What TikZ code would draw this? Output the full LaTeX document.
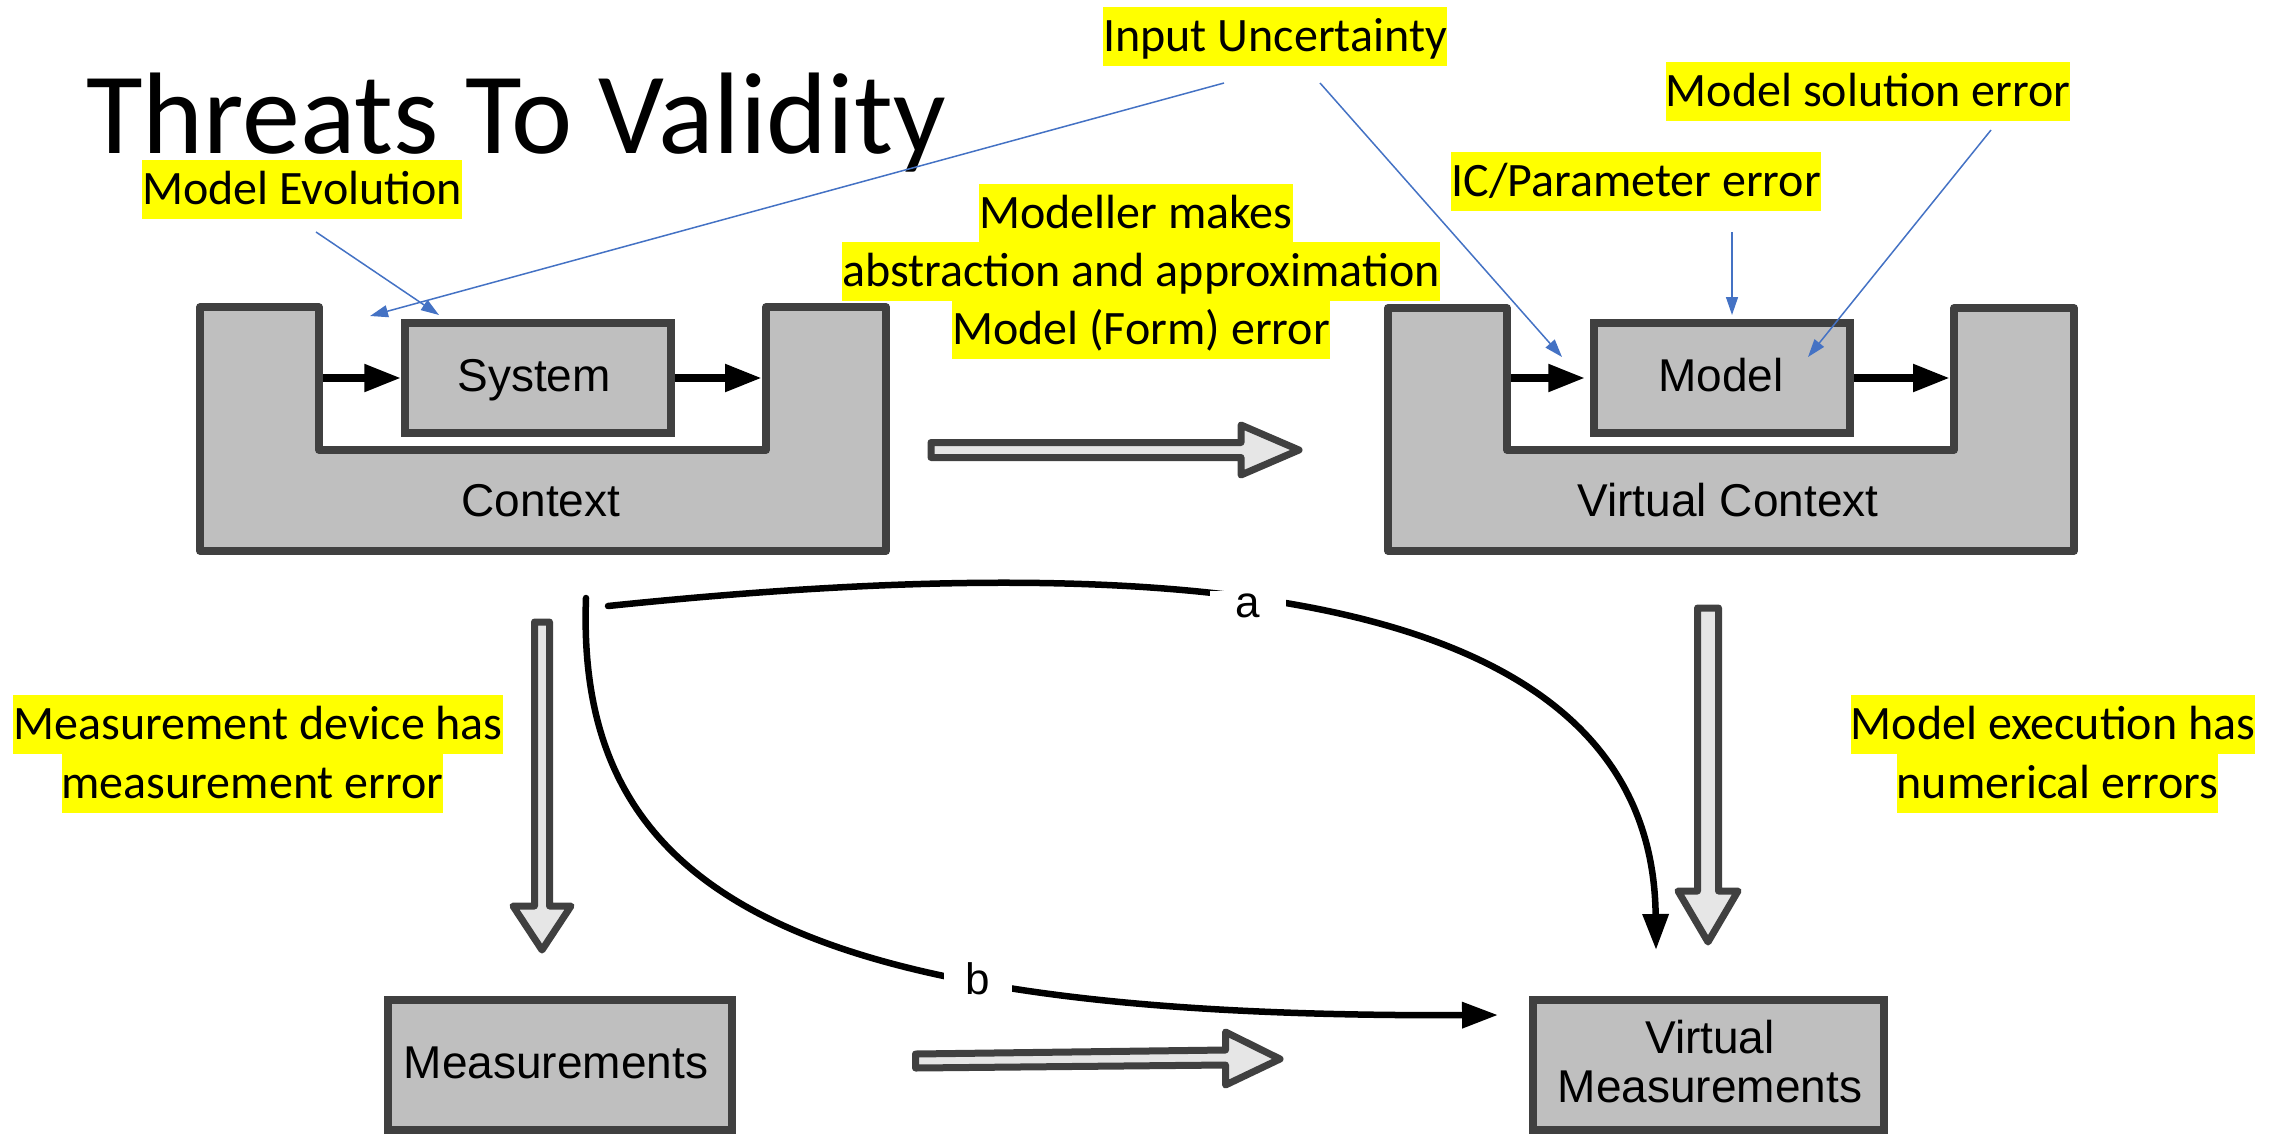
\documentclass[tikz,border=0pt]{standalone}
\usepackage{fontspec}
\setmainfont{Liberation Sans}
\newfontfamily\calib{Carlito}
\usetikzlibrary{arrows.meta}
\definecolor{boxfill}{HTML}{BFBFBF}
\definecolor{boxline}{HTML}{404040}
\definecolor{arrfill}{HTML}{E6E6E6}
\definecolor{bluel}{HTML}{4472C4}
\definecolor{hl}{HTML}{FFFF00}
\begin{document}
\begin{tikzpicture}[x=1pt,y=-1pt,
  ushape/.style={draw=boxline, fill=boxfill, line width=7.5pt, line join=round},
  boxnode/.style={draw=boxline, fill=boxfill, line width=7.5pt, rectangle, inner sep=0pt},
  hollow/.style={draw=boxline, fill=arrfill, line width=7pt, line join=round},
  boxtext/.style={font=\fontsize{46}{49}\selectfont, inner sep=0pt, anchor=base, align=center},
  hlabel/.style={fill=hl, font=\calib\fontsize{48}{58}\selectfont, inner xsep=0pt, inner ysep=0pt, text height=44.4pt, text depth=14.2pt, anchor=north},
  flow/.style={line width=8pt, -{Triangle[length=37pt,width=26pt]}},
  curvearr/.style={line width=6.5pt, line cap=round, -{Triangle[length=36pt,width=25pt]}},
  blueptr/.style={draw=bluel, line width=1.5pt, -{Triangle[length=18pt,width=12pt]}},
  curvelabel/.style={fill=white, font=\fontsize{44}{49}\selectfont, inner ysep=3pt},
]
\useasboundingbox (0,0) rectangle (2290,1135);
\clip (0,0) rectangle (2290,1135);

% title
\node[anchor=base west, inner sep=0pt, text depth=0pt, font=\calib\fontsize{116}{130}\selectfont] (title) at (86,153) {Threats To Validity};

% context U shapes
\draw[ushape] (200,307) -- (319,307) -- (319,450) -- (766,450) -- (766,307) -- (886,307) -- (886,551) -- (200,551) -- cycle;
\draw[ushape] (1388,308) -- (1507,308) -- (1507,450) -- (1954,450) -- (1954,308) -- (2074,308) -- (2074,551) -- (1388,551) -- cycle;

% boxes
\node[boxnode, minimum width=266pt, minimum height=110pt] (system) at (538,378) {};
\node[boxnode, minimum width=256pt, minimum height=110pt] (model) at (1722,378) {};
\node[boxnode, minimum width=344pt, minimum height=130pt] (meas) at (560,1065) {};
\node[boxnode, minimum width=351pt, minimum height=130pt] (vmeas) at (1708.5,1065) {};

% box texts
\node[boxtext] (systxt) at (534,391) {System};
\node[boxtext] (modtxt) at (1721,391) {Model};
\node[boxtext] (ctxtxt) at (541,516) {Context};
\node[boxtext] (vctxtxt) at (1728,516) {Virtual Context};
\node[boxtext] (meastxt) at (556,1078) {Measurements};
\node[boxtext] (vmeastxt) at (1710,1102) {Virtual\\Measurements};

% flow arrows inside U shapes
\coordinate (ctxL) at (323,378);
\coordinate (ctxR) at (762,378);
\coordinate (vctxL) at (1511,378);
\coordinate (vctxR) at (1950,378);
\draw[flow] (ctxL) -- (system.west);
\draw[flow] (system.east) -- (ctxR);
\draw[flow] (vctxL) -- ([xshift=-5pt]model.west);
\draw[flow] (model.east) -- (vctxR);

% hollow arrows
\draw[hollow] (931,442.5) -- (1241,442.5) -- (1241,425) -- (1299,450) -- (1241,475) -- (1241,457.5) -- (931,457.5) -- cycle;
\draw[hollow] (534.5,622) -- (534.5,906) -- (513,906) -- (542,950) -- (571,906) -- (549.5,906) -- (549.5,622) -- cycle;
\draw[hollow] (1697.5,608) -- (1697.5,891) -- (1678,891) -- (1708,942) -- (1738,891) -- (1718.5,891) -- (1718.5,608) -- cycle;
\draw[hollow] (915.5,1054) -- (1225.5,1050) -- (1225.5,1032) -- (1280,1059) -- (1225.5,1085) -- (1225.5,1065) -- (915.5,1068) -- cycle;

% curves a and b
\coordinate (aS) at (608,606);
\coordinate (aE) at (1656,950);
\coordinate (bS) at (586,598);
\coordinate (bE) at (1498,1015);
\draw[curvearr] (aS) .. controls (1100,555) and (1652,560) .. (aE);
\draw[curvearr] (bS) .. controls (575,897) and (798,1018) .. (bE);
\node[curvelabel, inner xsep=26pt] (la) at (1248,606) {a};
\node[curvelabel, inner xsep=22pt] (lb) at (978,979) {b};

% highlighted labels
\node[hlabel] (iu) at (1275,7) {Input Uncertainty};
\node[hlabel] (mse) at (1868,62) {Model solution error};
\node[hlabel] (icp) at (1636,152) {IC/Parameter error};
\node[hlabel] (mev) at (302,160) {Model Evolution};
\node[hlabel] (mm1) at (1136,184) {Modeller makes};
\node[hlabel] (mm2) at (1141,242) {abstraction and approximation};
\node[hlabel] (mm3) at (1141,300) {Model (Form) error};
\node[hlabel] (md1) at (258,695) {Measurement device has};
\node[hlabel] (md2) at (252.5,754) {measurement error};
\node[hlabel] (me1) at (2053,695) {Model execution has};
\node[hlabel] (me2) at (2057.5,754) {numerical errors};

% blue pointers
\coordinate (mevS) at (316,232);
\coordinate (mevE) at (439,315);
\coordinate (iuS1) at (1224,83);
\coordinate (iuE1) at (370,316);
\coordinate (iuS2) at (1320,83);
\coordinate (iuE2) at (1562,357);
\coordinate (icS) at (1732,232);
\coordinate (icE) at (1732,315);
\coordinate (mseS) at (1991,130);
\coordinate (mseE) at (1808,357);
\draw[blueptr] (mevS) -- (mevE);
\draw[blueptr] (iuS1) -- (iuE1);
\draw[blueptr] (iuS2) -- (iuE2);
\draw[blueptr] (icS) -- (icE);
\draw[blueptr] (mseS) -- (mseE);
\end{tikzpicture}
\end{document}
